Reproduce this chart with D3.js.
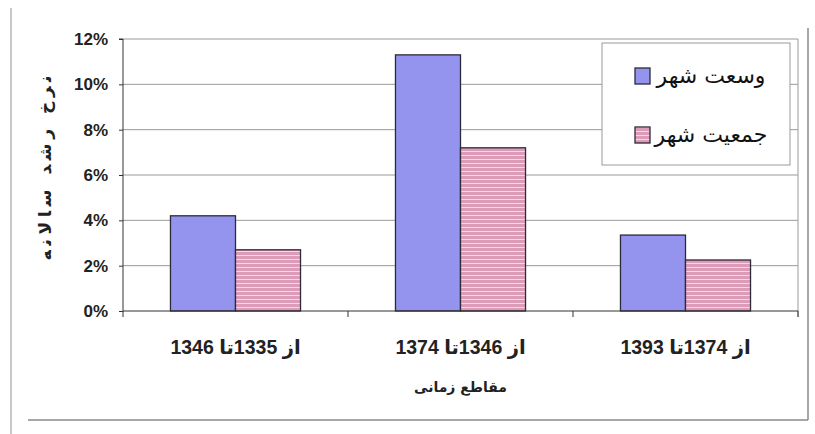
<!DOCTYPE html>
<html><head><meta charset="utf-8">
<script src="https://cdn.jsdelivr.net/npm/d3@7"></script>
<style>html,body{margin:0;padding:0;background:#fff;}svg{display:block;}</style>
</head><body>
<svg id="c" width="815" height="434"></svg>
<script>
const categories = ["از 1335تا 1346", "از 1346تا 1374", "از 1374تا 1393"];
const seriesNames = ["وسعت شهر", "جمعیت شهر"];
const areaGrowth = [4.2, 11.3, 3.35];
const popGrowth = [2.7, 7.2, 2.25];
const yTicks = [0, 2, 4, 6, 8, 10, 12];
const xTitle = "مقاطع زمانی";
const yTitle = "نرخ رشد سالانه";

(function(){
const svg = d3.select("#c");
const defs = svg.append("defs");
const pat = defs.append("pattern").attr("id","pinkStripe").attr("patternUnits","userSpaceOnUse")
  .attr("width",8).attr("height",4);
pat.append("rect").attr("width",8).attr("height",4).attr("fill","#dc9cb8");
pat.append("rect").attr("y",3).attr("width",8).attr("height",1).attr("fill","#f4d8e2");

const pLeft = 123, pRight = 798, pTop = 39, pBottom = 311;
const x = d3.scaleBand().domain(categories).range([pLeft, pRight]);
const xs = d3.scaleBand().domain([0,1]).range([0, x.bandwidth()]).paddingOuter(0.73).paddingInner(0);
const y = d3.scaleLinear().domain([0, 12]).range([pBottom, pTop]);

// outer frame
svg.append("line").attr("x1",11).attr("x2",11).attr("y1",8).attr("y2",434).attr("stroke","#c8c8c8").attr("stroke-width",2);
svg.append("line").attr("x1",28).attr("x2",808).attr("y1",420).attr("y2",420).attr("stroke","#8a8a8a").attr("stroke-width",1.5);
svg.append("line").attr("x1",808).attr("x2",808).attr("y1",28).attr("y2",420).attr("stroke","#8a8a8a").attr("stroke-width",1.5);

// gridlines
svg.append("g").selectAll("line").data(yTicks.filter(d=>d>0)).join("line")
  .attr("x1",pLeft).attr("x2",pRight).attr("y1",d=>y(d)).attr("y2",d=>y(d))
  .attr("stroke","#9a9a9a").attr("stroke-width",1);
svg.append("line").attr("x1",pRight).attr("x2",pRight).attr("y1",pTop).attr("y2",pBottom+6).attr("stroke","#9a9a9a");

// bars
const data = categories.map((c,i)=>({c, vals:[areaGrowth[i], popGrowth[i]]}));
const g = svg.append("g");
data.forEach(d=>{
  d.vals.forEach((v,j)=>{
    g.append("rect").attr("x", x(d.c)+xs(j)).attr("width", xs.bandwidth())
      .attr("y", y(v)).attr("height", y(0)-y(v))
      .attr("fill", j===0 ? "#9494ee" : "url(#pinkStripe)")
      .attr("stroke","#2a2a3a").attr("stroke-width",1.3);
  });
});

// y axis
const yAxis = d3.axisLeft(y).tickValues(yTicks).tickFormat(d=>d+"%").tickSize(4).tickPadding(11);
const ya = svg.append("g").attr("transform",`translate(${pLeft},0)`).call(yAxis);
ya.select(".domain").attr("stroke","#333").attr("d",`M-4,${pTop}H0V${pBottom}`);
ya.selectAll(".tick line").attr("stroke","#333");
ya.selectAll("text").attr("font-family","Liberation Sans, Arial, sans-serif").attr("font-weight","bold")
  .attr("font-size",17).attr("fill","#222");

// x axis
const xa = svg.append("g").attr("transform",`translate(0,${pBottom})`);
xa.append("line").attr("x1",pLeft).attr("x2",pRight).attr("stroke","#333");
const bounds = [pLeft].concat(categories.map(c=>x(c)+x.bandwidth()));
xa.selectAll(".tk").data(bounds).join("line").attr("x1",d=>d).attr("x2",d=>d).attr("y1",0).attr("y2",6).attr("stroke","#333");
xa.selectAll(".lbl").data(categories).join("text")
  .attr("x",d=>x(d)+x.bandwidth()/2).attr("y",43)
  .attr("text-anchor","middle").attr("direction","rtl")
  .attr("font-family","Liberation Sans, DejaVu Sans, sans-serif").attr("font-weight","bold")
  .attr("font-size",19.5).attr("fill","#222").text(d=>d);

// axis titles
svg.append("text").attr("x",(pLeft+pRight)/2).attr("y",392).attr("text-anchor","middle").attr("direction","rtl")
  .attr("font-family","DejaVu Sans, sans-serif").attr("font-weight","bold").attr("font-size",14).attr("fill","#222").text(xTitle);
svg.append("text").attr("transform","translate(51,168) rotate(-90)").attr("text-anchor","middle").attr("direction","rtl")
  .attr("font-family","DejaVu Sans, sans-serif").attr("font-weight","bold").attr("font-size",17)
  .attr("textLength",185).attr("lengthAdjust","spacing").attr("fill","#222").text(yTitle);

// legend
const lg = svg.append("g");
lg.append("rect").attr("x",602).attr("y",43).attr("width",188).attr("height",122).attr("fill","#fff").attr("stroke","#9a9a9a");
seriesNames.forEach((n,i)=>{
  const yy = 68 + i*59;
  lg.append("rect").attr("x",635).attr("y",yy).attr("width",15).attr("height",16)
    .attr("fill", i===0 ? "#9494ee" : "url(#pinkStripe)").attr("stroke","#2a2a3a").attr("stroke-width",1.3);
  lg.append("text").attr("x",711).attr("y",yy+15).attr("text-anchor","middle").attr("direction","rtl")
    .attr("font-family","DejaVu Sans, sans-serif").attr("font-size",22).attr("fill","#111").text(n);
});
})();
</script>
</body></html>
